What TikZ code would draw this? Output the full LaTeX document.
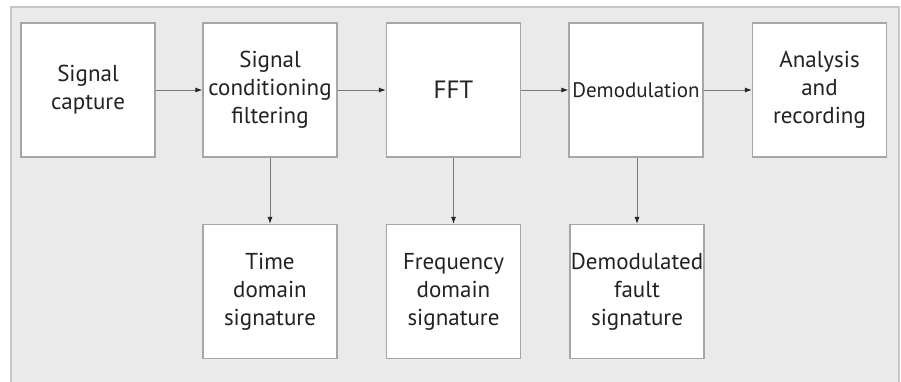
\documentclass[tikz,border=0pt]{standalone}
\usepackage{fontspec}
\setmainfont{PT Sans}
\usepackage{tikz}
\usetikzlibrary{arrows.meta,positioning}

\definecolor{panelgray}{HTML}{EAEAEA}
\definecolor{panelline}{HTML}{C6C6C6}
\definecolor{boxline}{HTML}{A6A6A6}
\definecolor{textgray}{HTML}{222222}
\definecolor{wiregray}{HTML}{7A7A7A}

\begin{document}
\begin{tikzpicture}[x=1pt,y=-1pt,
  block/.style={draw=boxline,line width=1.2pt,fill=white,minimum width=134pt,
    minimum height=134pt,inner sep=0pt,align=center,text=textgray,
    font=\fontsize{23}{28}\selectfont},
  wire/.style={draw=wiregray,line width=0.9pt,
    -{Latex[length=7pt,width=5pt,color=black!85]}}]

  % Page and panel
  \useasboundingbox (0,0) rectangle (901,381);
  \clip (0,0) rectangle (901,381);
  \fill[white] (0,0) rectangle (901,381);
  \draw[panelline,fill=panelgray,line width=1.2pt] (11,7) rectangle (899,395);

  % Processing chain
  \node[block] (capture) at (88,90) {Signal\\capture};
  \node[block] (cond) at (270,90) {Signal\\conditioning\\filtering};
  \node[block,font=\fontsize{25}{28}\selectfont] (fft) at (453.5,90) {FFT};
  \node[block,font=\fontsize{21}{28}\selectfont] (demod) at (636,90) {Demodulation};
  \node[block] (record) at (819.5,90) {Analysis\\and\\recording};

  % Signatures
  \node[block] (timesig) at (270,291.5) {Time\\domain\\signature};
  \node[block] (freqsig) at (453.5,291.5) {Frequency\\domain\\signature};
  \node[block] (faultsig) at (637,291.5) {Demodulated\\fault\\signature};

  % Connections
  \draw[wire] (capture) -- (cond);
  \draw[wire] (cond) -- (fft);
  \draw[wire] (fft) -- (demod);
  \draw[wire] (demod) -- (record);
  \draw[wire] (cond) -- (timesig);
  \draw[wire] (fft) -- (freqsig);
  \draw[wire] (demod.south -| faultsig) -- (faultsig);
\end{tikzpicture}
\end{document}
